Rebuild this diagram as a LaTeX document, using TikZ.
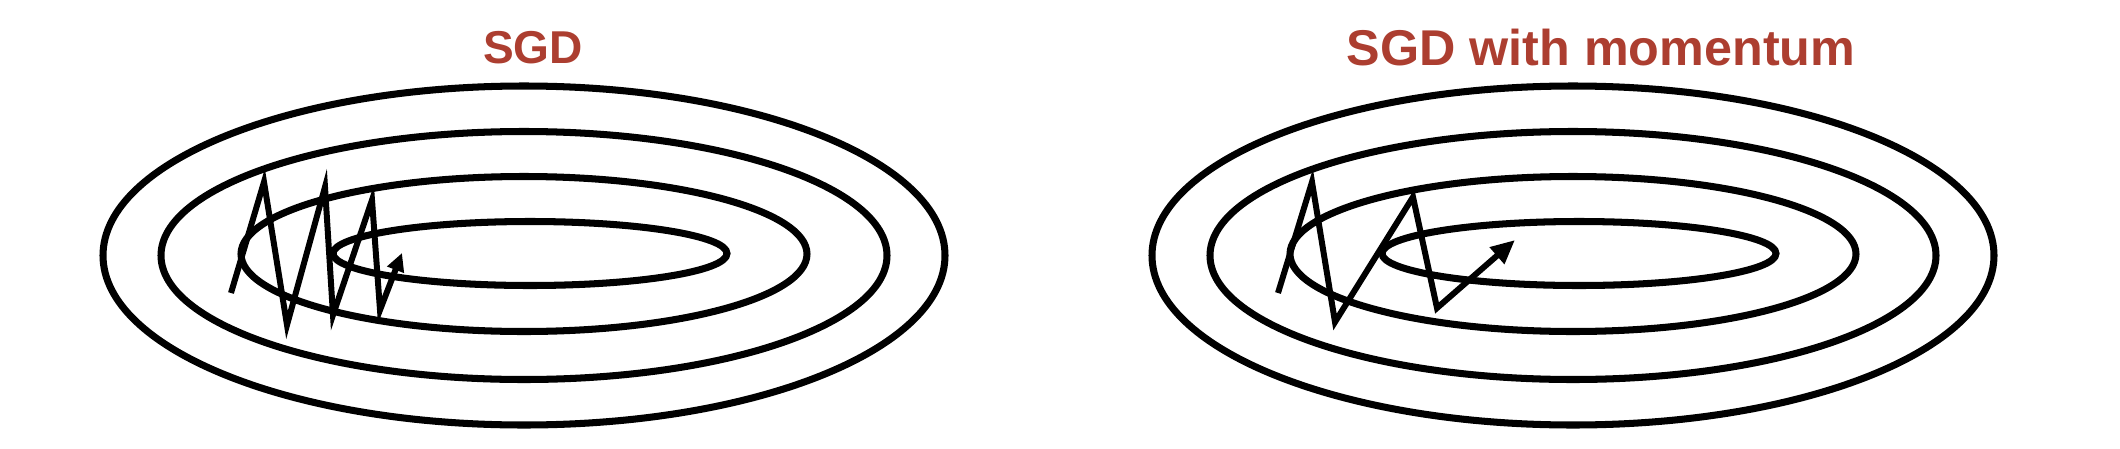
\documentclass[tikz,border=0pt]{standalone}
\usepackage{fontspec}
\setmainfont{Liberation Sans}
\usetikzlibrary{arrows.meta}
\definecolor{titleRed}{RGB}{172,62,48}

\begin{document}
\begin{tikzpicture}[x=0.01cm,y=-0.01cm,
  contour/.style={line width=2pt},
  sgdpath/.style={line width=1.7pt,line join=miter,
    -{Triangle[length=0.18cm,width=0.17cm]}}]
  \useasboundingbox (0,0) rectangle (2120,448);
  % level sets of the loss, same in both panels
  \foreach \cx in {524,1573} {
    \draw[contour] (\cx,255.5) ellipse [x radius=421,y radius=169.5];
    \draw[contour] (\cx,255.5) ellipse [x radius=363,y radius=124];
    \draw[contour] (\cx,254) ellipse [x radius=283,y radius=77.5];
    \draw[contour] (\cx+6,253.5) ellipse [x radius=197,y radius=32];
  }
  % titles
  \node[anchor=base,text=titleRed,font=\fontsize{13.1}{15}\selectfont\bfseries,inner sep=0pt]
    (sgd) at (533,63) {SGD};
  \node[anchor=base,text=titleRed,font=\fontsize{14.3}{17}\selectfont\bfseries,inner sep=0pt]
    (mom) at (1601,65) {SGD with momentum};
  % plain SGD: zigzag across the valley
  \draw[sgdpath] (231,293) -- (264,182) -- (287,325) -- (325,187) -- (333,315)
    -- (372,200) -- (380,310) -- (402,253);
  % momentum: fewer, longer steps
  \draw[sgdpath,-{Triangle[length=0.24cm,width=0.21cm]}] (1278,293) -- (1312,182) -- (1335,322)
    -- (1413,197) -- (1437,308) -- (1515,240);
\end{tikzpicture}
\end{document}
